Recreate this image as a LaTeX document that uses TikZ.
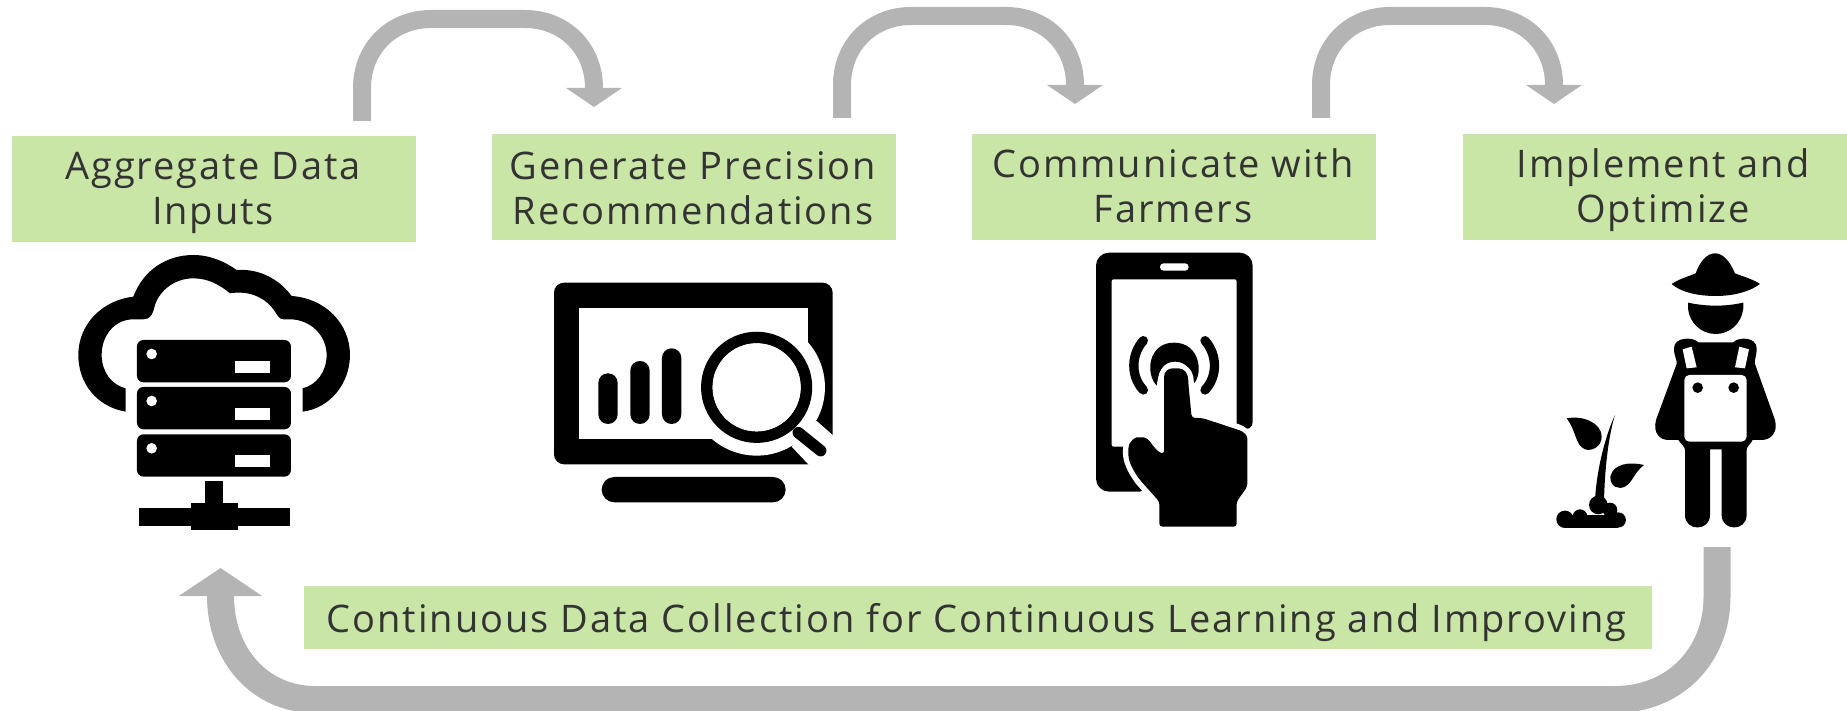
\documentclass[tikz,border=0pt]{standalone}
\usepackage{fontspec}
\setmainfont[LetterSpace=5.2]{Open Sans}
\usetikzlibrary{arrows.meta}
\definecolor{boxgreen}{HTML}{C9E6A6}
\definecolor{flowgray}{HTML}{B4B4B4}
\definecolor{labelink}{HTML}{333333}
\newcommand{\handoutline}{(312,420) .. controls (312,395) and (325,385) .. (347,385) .. controls (372,385) and (385,400) .. (385,430)
 -- (395,533) -- (430,535) -- (530,568) .. controls (550,575) and (562,585) .. (562,605)
 -- (562,740) -- (530,785) -- (530,860) -- (298,860) -- (298,785) -- (240,720)
 .. controls (215,685) and (205,660) .. (205,635) .. controls (205,605) and (225,592) .. (240,592)
 .. controls (270,592) and (280,630) .. (312,642) -- cycle}
\tikzset{
  stepbox/.style={fill=boxgreen,draw=none,inner sep=0pt,minimum width=404pt,minimum height=106pt},
  longbox/.style={fill=boxgreen,draw=none,inner sep=0pt,minimum width=1348pt,minimum height=63pt},
  caption/.style={text=labelink,inner sep=0pt,align=center,font=\fontsize{38pt}{45pt}\selectfont},
  flow/.style={draw=flowgray,line width=18pt,-{Triangle[length=19pt,width=55pt]}},
  flowbig/.style={draw=flowgray,line width=27pt,-{Triangle[length=28pt,width=82pt]}},
  icon/.style={shift={(#1)},x=0.3333pt,y=-0.3333pt},
  ink/.style={fill=black,draw=none},
  paper/.style={fill=white,draw=none}
}
\begin{document}
\begin{tikzpicture}[x=1pt,y=-1pt]
\useasboundingbox (0,0) rectangle (1847,711);
\clip (0,0) rectangle (1847,711);
\node[stepbox] (aggregate) at (214,189) {};
\node[stepbox] (generate) at (694,187) {};
\node[stepbox] (communicate) at (1174,187) {};
\node[stepbox] (implement) at (1665,187) {};
\node[longbox] (continuous) at (978,617.5) {};
\node[caption] (aggregatetext) at (213,193.5) {\strut Aggregate Data\\\strut Inputs};
\node[caption] (generatetext) at (693,193) {\strut Generate Precision\\\strut Recommendations};
\node[caption] (communicatetext) at (1173,191.5) {\strut Communicate with\\\strut Farmers};
\node[caption] (implementtext) at (1663,191.5) {\strut Implement and\\\strut Optimize};
\node[caption] (continuoustext) at (976.5,623) {\strut Continuous Data Collection for Continuous Learning and Improving};

\coordinate (a1s) at (362,121); \coordinate (a1e) at (594,107);
\coordinate (a2s) at (842,118); \coordinate (a2e) at (1075,104);
\coordinate (a3s) at (1321,118); \coordinate (a3e) at (1554,104);
\coordinate (a4s) at (1717,547); \coordinate (a4e) at (220.5,568);

\draw[flow] (a1s) -- (362,88) .. controls (362,48) and (392,19) .. (431,19) -- (525,19) .. controls (564,19) and (594,48) .. (594,88) -- (a1e);
\draw[flow] (a2s) -- (842,85) .. controls (842,45) and (872,16) .. (911,16) -- (1006,16) .. controls (1045,16) and (1075,45) .. (1075,85) -- (a2e);
\draw[flow] (a3s) -- (1321,85) .. controls (1321,45) and (1351,16) .. (1390,16) -- (1485,16) .. controls (1524,16) and (1554,45) .. (1554,85) -- (a3e);
\draw[flowbig] (a4s) -- (1717,597) .. controls (1717,655) and (1675,699.5) .. (1615,699.5) -- (315,699.5) .. controls (260,699.5) and (220.5,655) .. (220.5,596) -- (a4e);

% cloud and servers
\begin{scope}[icon={0,240}]
\fill[ink] (377,515) .. controls (290,500) and (235,430) .. (235,345)
 .. controls (235,250) and (310,180) .. (400,170)
 .. controls (430,90) and (500,45) .. (580,45)
 .. controls (630,45) and (675,65) .. (710,90)
 .. controls (780,85) and (840,120) .. (875,168)
 .. controls (975,175) and (1050,250) .. (1050,345)
 .. controls (1050,430) and (990,505) .. (908,515)
 -- (908,445)
 .. controls (950,435) and (980,395) .. (980,345)
 .. controls (980,285) and (930,238) .. (870,238)
 -- (850,238) .. controls (838,238) and (832,225) .. (825,215)
 .. controls (800,175) and (750,150) .. (690,160)
 .. controls (660,135) and (625,115) .. (580,115)
 .. controls (525,115) and (480,150) .. (465,195)
 .. controls (458,225) and (450,238) .. (430,238)
 -- (400,238) .. controls (345,238) and (305,285) .. (305,345)
 .. controls (305,395) and (335,435) .. (377,445) -- cycle;
\foreach \t in {300,441,583}{
  \fill[ink,rounded corners=6.5pt] (411,\t) rectangle (873,\t+127);
  \fill[paper] (455,\t+42) circle[radius=5.3pt];
  \fill[paper] (706,\t+63) rectangle (811,\t+99);
}
\fill[ink] (616,724) rectangle (669,800);
\fill[ink] (572,788) rectangle (715,870);
\fill[ink] (416,805) rectangle (869,857);
\end{scope}

% monitor
\begin{scope}[icon={500,260}]
\fill[ink,rounded corners=10pt] (162,68) rectangle (998,613);
\fill[paper] (238,143) rectangle (923,538);
\fill[paper] (770,382) circle[radius=68.3pt];
\fill[paper] (875,560) -- (925,613) -- (925,640) -- (1010,640) -- (1010,535) -- (998,525) -- (950,483) -- cycle;
\fill[ink] (770,382) circle[radius=55.6pt];
\fill[paper] (770,382) circle[radius=44pt];
\draw[black,line width=11.5pt,line cap=round] (895,518) -- (962,572);
\fill[paper] (770,382) circle[radius=44pt];
\fill[ink,rounded corners=9.6pt] (295,340) rectangle (353,492);
\fill[ink,rounded corners=9.6pt] (391,303) rectangle (449,492);
\fill[ink,rounded corners=9.6pt] (486,265) rectangle (544,492);
\fill[ink,rounded corners=12.6pt] (305,651) rectangle (857,727);
\end{scope}

% phone and hand
\begin{scope}[icon={1060,240}]
\fill[ink,rounded corners=13pt] (108,38) -- (578,38) -- (578,582) [sharp corners] -- (540,560) -- (240,755) [rounded corners=13pt] -- (108,755) -- cycle;
\fill[paper,rounded corners=2pt] (155,118) rectangle (530,620);
\fill[paper,rounded corners=3.5pt] (300,70) rectangle (386,92);
\fill[ink] (290,437) .. controls (255,400) and (265,308) .. (342,308) .. controls (420,308) and (430,400) .. (402,430) .. controls (395,400) and (385,365) .. (345,365) .. controls (305,365) and (295,400) .. (290,437) -- cycle;
\draw[black,line width=9.3pt,line cap=round] (250,302) .. controls (212,345) and (212,410) .. (250,450);
\draw[black,line width=9.3pt,line cap=round] (435,302) .. controls (473,345) and (473,410) .. (435,450);
\draw[white,line width=11pt,line join=round] \handoutline;
\fill[black,rounded corners=3pt] \handoutline;
\end{scope}

% farmer and plant
\begin{scope}[icon={1530,240}]
\fill[ink] (425,132) .. controls (450,115) and (480,108) .. (497,100) .. controls (510,65) and (530,40) .. (555,40) .. controls (580,40) and (600,65) .. (615,100) .. controls (640,110) and (670,118) .. (690,132) .. controls (660,155) and (610,168) .. (557,168) .. controls (500,168) and (450,155) .. (425,132) -- cycle;
\fill[ink] (474,188) .. controls (530,200) and (585,200) .. (640,188) -- (640,205) .. controls (635,250) and (600,282) .. (557,282) .. controls (515,282) and (478,250) .. (474,205) -- cycle;
\fill[ink] (505,307) -- (610,307) .. controls (625,290) and (680,290) .. (680,325) .. controls (680,350) and (672,360) .. (675,372) -- (735,540) .. controls (745,580) and (720,600) .. (695,600) -- (668,600) .. controls (660,615) and (650,620) .. (650,630) -- (650,825) .. controls (650,875) and (575,875) .. (575,825) -- (575,628) -- (540,628) -- (540,825) .. controls (540,875) and (465,875) .. (465,825) -- (465,630) .. controls (465,620) and (455,615) .. (445,600) -- (415,600) .. controls (390,600) and (368,580) .. (378,540) -- (440,372) .. controls (442,360) and (432,350) .. (432,325) .. controls (432,290) and (490,290) .. (505,307) -- cycle;
\fill[paper,rounded corners=5pt] (463,405) rectangle (650,605);
\fill[ink] (503,443) circle[radius=5.3pt];
\fill[ink] (611,443) circle[radius=5.3pt];
\fill[paper] (458,328) -- (485,320) -- (500,382) -- (470,385) -- cycle;
\fill[paper] (628,320) -- (657,328) -- (645,385) -- (615,382) -- cycle;
% plant
\fill[ink] (255,525) .. controls (235,590) and (225,680) .. (222,780) -- (195,780) .. controls (200,690) and (225,590) .. (255,525) -- cycle;
\fill[ink] (110,535) .. controls (160,525) and (215,550) .. (215,590) .. controls (215,620) and (185,635) .. (165,628) .. controls (135,615) and (140,575) .. (110,535) -- cycle;
\fill[ink] (342,675) .. controls (300,665) and (250,670) .. (241,710) .. controls (240,740) and (265,750) .. (285,740) .. controls (310,725) and (310,700) .. (342,675) -- cycle;
\fill[ink] (205,795) circle[radius=9.3pt];
\fill[ink] (150,830) circle[radius=7.3pt];
\fill[ink] (240,810) circle[radius=7.3pt];
\fill[ink] (105,838) circle[radius=8.7pt];
\fill[ink] (265,840) circle[radius=7.6pt];
\fill[ink] (105,825) rectangle (265,863);
\end{scope}
\end{tikzpicture}
\end{document}
